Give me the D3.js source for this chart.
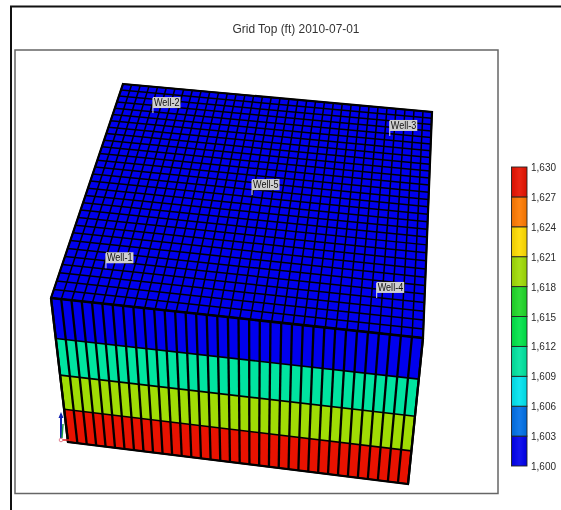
<!DOCTYPE html>
<html><head><meta charset="utf-8">
<script src="https://cdn.jsdelivr.net/npm/d3@7/dist/d3.min.js"></script>
<style>html,body{margin:0;padding:0;background:#fff}svg{display:block}text{font-family:"Liberation Sans",Arial,sans-serif}</style>
</head><body><svg id="c" width="561" height="510"></svg>
<script>
const title = "Grid Top (ft) 2010-07-01";
const nCols = 35;
const nRows = 30;
const layerDepths = [0, 39, 76, 112, 148];
const layerValues = [1601, 1610, 1620, 1629];
const topValue = 1601;
const legendTicks = [1600,1603,1606,1609,1612,1615,1618,1621,1624,1627,1630];
const legendColors = ["#0000ee","#0070e8","#00e4f0","#00e4a0","#00e448","#20d828","#a0dc04","#ffdc00","#ff7a00","#e81200"];
const wellNames = ["Well-1","Well-2","Well-3","Well-4","Well-5"];
const wellCol = [4.3,4.35,30.55,30.5,16.95];
const wellRow = [25.9,4.2,4.35,26.05,14.75];

const svg = d3.select("#c");
const fmt = d3.format(",");
const color = d3.scaleThreshold().domain(legendTicks.slice(1,-1)).range(legendColors);

// square-to-quad projective map
function quad(p0,p1,p2,p3){
  const sx=p0[0]-p1[0]+p2[0]-p3[0], sy=p0[1]-p1[1]+p2[1]-p3[1];
  const dx1=p1[0]-p2[0], dx2=p3[0]-p2[0], dy1=p1[1]-p2[1], dy2=p3[1]-p2[1];
  const det=dx1*dy2-dx2*dy1;
  const g=(sx*dy2-dx2*sy)/det, h=(dx1*sy-sx*dy1)/det;
  const a=p1[0]-p0[0]+g*p1[0], b=p3[0]-p0[0]+h*p3[0], c=p0[0];
  const d=p1[1]-p0[1]+g*p1[1], e=p3[1]-p0[1]+h*p3[1], f=p0[1];
  return (u,v)=>{const w=g*u+h*v+1;return [(a*u+b*v+c)/w,(d*u+e*v+f)/w];};
}
const BL=[123,84],BR=[432,112],FR=[423,338],FL=[51,298],FRb=[408,484],FLb=[68,442];
const topMap=quad(BL,BR,FR,FL), sideMap=quad(FL,FR,FRb,FLb);
const col=d3.scaleLinear().domain([0,nCols]).range([0,1]);
const row=d3.scaleLinear().domain([0,nRows]).range([0,1]);
const depth=d3.scaleLinear().domain([0,layerDepths[layerDepths.length-1]]).range([0,1]);
const line=d3.line();

// frames
svg.append("rect").attr("width",561).attr("height",510).attr("fill","#fff");
svg.append("path").attr("d","M11,510V6.5H561").attr("fill","none").attr("stroke","#111").attr("stroke-width",2);
svg.append("rect").attr("x",15).attr("y",50).attr("width",483).attr("height",443.5).attr("fill","#fff").attr("stroke","#666").attr("stroke-width",1.5);
svg.append("text").attr("x",296).attr("y",33).attr("text-anchor","middle").attr("font-size",13).attr("fill","#333").attr("textLength",127).attr("lengthAdjust","spacingAndGlyphs").style("filter","blur(0.3px)").text(title);

// model
const model=svg.append("g").style("filter","blur(0.45px)");
model.append("path").attr("d",line([BL,BR,FR,FL])+"Z").attr("fill",color(topValue));
const gv=d3.range(nCols+1), gh=d3.range(nRows+1);
model.selectAll("path.tv").data(gv).join("path").attr("class","tv")
  .attr("d",i=>line([topMap(col(i),0),topMap(col(i),1)])).attr("fill","none").attr("stroke","#000").attr("stroke-width",1.5);
model.selectAll("path.th").data(gh).join("path").attr("class","th")
  .attr("d",j=>line([topMap(0,row(j)),topMap(1,row(j))])).attr("fill","none").attr("stroke","#000").attr("stroke-width",1.5);
model.selectAll("path.layer").data(layerValues).join("path").attr("class","layer")
  .attr("d",(v,k)=>{const t0=depth(layerDepths[k]),t1=depth(layerDepths[k+1]);
    return line([sideMap(0,t0),sideMap(1,t0),sideMap(1,t1),sideMap(0,t1)])+"Z";})
  .attr("fill",v=>color(v));
model.selectAll("path.sv").data(gv).join("path").attr("class","sv")
  .attr("d",i=>line([sideMap(col(i),0),sideMap(col(i),1)])).attr("fill","none").attr("stroke","#000").attr("stroke-width",2.3);
model.selectAll("path.sh").data(layerDepths).join("path").attr("class","sh")
  .attr("d",d=>line([sideMap(0,depth(d)),sideMap(1,depth(d))])).attr("fill","none").attr("stroke","#000").attr("stroke-width",1.6);
model.append("path").attr("d",line([BL,BR,FR,FRb,FLb,FL])+"Z").attr("fill","none").attr("stroke","#000").attr("stroke-width",2.2);
model.append("path").attr("d",line([FL,FR])).attr("stroke","#000").attr("stroke-width",2.6);

// wells
const wells=svg.append("g").style("filter","blur(0.35px)");
wellNames.forEach((n,i)=>{
  const p=topMap(col(wellCol[i]),row(wellRow[i]));
  const g=wells.append("g").attr("transform",`translate(${p[0]},${p[1]})`);
  g.append("line").attr("y1",0).attr("y2",-15).attr("stroke","#ddd").attr("stroke-width",1);
  g.append("rect").attr("x",0).attr("y",-16).attr("width",27.5).attr("height",11).attr("fill","#cfcfcf");
  g.append("text").attr("x",1).attr("y",-6.8).attr("font-size",10).attr("fill","#111").attr("textLength",25.5).attr("lengthAdjust","spacingAndGlyphs").text(n);
});

// triad
const o=sideMap(0,1);
const tri=svg.append("g").attr("transform",`translate(${o[0]-7},${o[1]-2})`).style("filter","blur(0.3px)");
tri.append("line").attr("x1",0).attr("x2",0).attr("y1",0).attr("y2",-26).attr("stroke","#1020b0").attr("stroke-width",2);
tri.append("path").attr("d","M-2.5,-22L0,-28L2.5,-22Z").attr("fill","#1020b0");
tri.append("line").attr("x1",1).attr("x2",2).attr("y1",-2).attr("y2",-16).attr("stroke","#20a040").attr("stroke-width",1.5);
tri.append("line").attr("x1",0).attr("x2",9).attr("y1",0).attr("y2",0).attr("stroke","#e02020").attr("stroke-width",1.5);
tri.append("circle").attr("r",1.8).attr("fill","#fff").attr("stroke","#e08090").attr("stroke-width",1);

// legend
const ly=d3.scaleLinear().domain([1600,1630]).range([466,167]);
const defs=svg.append("defs");
legendColors.forEach((c,i)=>{
  const gr=defs.append("linearGradient").attr("id","g"+i);
  gr.append("stop").attr("offset","0").attr("stop-color",d3.interpolateRgb(c,"#000")(0.08));
  gr.append("stop").attr("offset","0.5").attr("stop-color",d3.interpolateRgb(c,"#fff")(0.08));
  gr.append("stop").attr("offset","1").attr("stop-color",d3.interpolateRgb(c,"#000")(0.08));
});
const lg=svg.append("g").style("filter","blur(0.4px)");
lg.selectAll("rect").data(legendColors).join("rect")
  .attr("x",511.5).attr("width",15.5)
  .attr("y",(c,i)=>ly(legendTicks[i+1])).attr("height",(c,i)=>ly(legendTicks[i])-ly(legendTicks[i+1]))
  .attr("fill",(c,i)=>`url(#g${i})`).attr("stroke","#222").attr("stroke-width",0.9);
svg.selectAll("text.tk").data(legendTicks).join("text").attr("class","tk")
  .attr("x",531).attr("y",t=>ly(t)+4).attr("font-size",11).attr("fill","#2a2a2a").attr("textLength",25).attr("lengthAdjust","spacingAndGlyphs").style("filter","blur(0.25px)").text(t=>fmt(t));
</script></body></html>
